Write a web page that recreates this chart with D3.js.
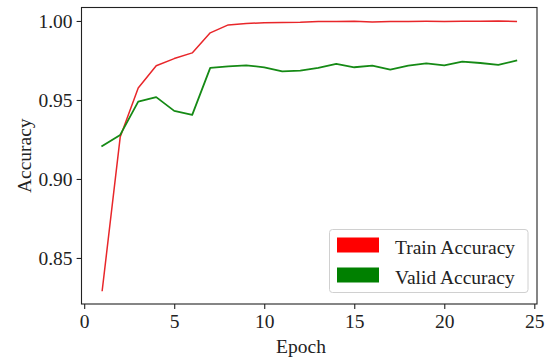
<!DOCTYPE html>
<meta charset="utf-8">
<style>
    html, body { margin: 0; padding: 0; background: #fff; }
    svg { display: block; font-family: "Liberation Serif", "Times New Roman", serif; }
</style>
<body>
<svg width="548" height="361"></svg>
<script src="https://cdn.jsdelivr.net/npm/d3@7"></script>
<script>
    // data
    const epochs = [1, 2, 3, 4, 5, 6, 7, 8, 9, 10, 11, 12, 13, 14, 15, 16, 17, 18, 19, 20, 21, 22, 23, 24];
    const trainAcc = [0.8294, 0.9265, 0.9576, 0.9717, 0.9762, 0.9798, 0.9925, 0.9975, 0.9984, 0.9989, 0.9991, 0.9992,
        0.9996, 0.9997, 0.9999, 0.9993, 0.9996, 0.9997, 0.9998, 0.9997, 0.9998, 0.9998, 1.0000, 0.9997];
    const validAcc = [0.9209, 0.9279, 0.9490, 0.9518, 0.9431, 0.9406, 0.9703, 0.9713, 0.9719, 0.9707, 0.9681, 0.9686,
        0.9703, 0.9728, 0.9707, 0.9717, 0.9692, 0.9717, 0.9732, 0.9719, 0.9743, 0.9734, 0.9722, 0.9749];
    const xTicks = [0, 5, 10, 15, 20, 25];
    const yTicks = [0.85, 0.90, 0.95, 1.00];
    const series = [
        { name: "Train Accuracy", values: trainAcc, color: "red", line: "#e8262a", width: 1.5 },
        { name: "Valid Accuracy", values: validAcc, color: "green", line: "#158a15", width: 1.8 }
    ];

    const m = { left: 81.5, right: 537, top: 7.5, bottom: 304 };
    const svg = d3.select("svg");

    // matplotlib style 5% margins
    const xMin = d3.min(epochs), xMax = d3.max(epochs);
    const xPad = (xMax - xMin) * 0.05;
    const all = trainAcc.concat(validAcc);
    const yMin = d3.min(all), yMax = d3.max(all);
    const yPad = (yMax - yMin) * 0.05;

    const x = d3.scaleLinear().domain([xMin - xPad, xMax + xPad]).range([m.left, m.right]);
    const y = d3.scaleLinear().domain([yMin - yPad, yMax + yPad]).range([m.bottom, m.top]);

    const line = d3.line().x((d, i) => x(epochs[i])).y(d => y(d));

    const plot = svg.append("g");
    series.forEach(s => {
        plot.append("path")
            .attr("d", line(s.values))
            .attr("fill", "none")
            .attr("stroke", s.line)
            .attr("stroke-width", s.width)
            .attr("stroke-linejoin", "round")
            .attr("stroke-linecap", "square");
    });

    // axes
    const xAxis = d3.axisBottom(x).tickValues(xTicks).tickFormat(d3.format("d")).tickSize(4.9).tickPadding(5);
    const yAxis = d3.axisLeft(y).tickValues(yTicks).tickFormat(d3.format(".2f")).tickSize(4.9).tickPadding(4);

    const gx = svg.append("g").attr("transform", `translate(0,${m.bottom})`).call(xAxis);
    const gy = svg.append("g").attr("transform", `translate(${m.left},0)`).call(yAxis);
    [gx, gy].forEach(g => {
        g.select(".domain").remove();
        g.selectAll(".tick line").attr("stroke", "#222").attr("stroke-width", 1.1);
        g.selectAll(".tick text").attr("fill", "#222")
            .style("font-family", "'Liberation Serif', serif").style("font-size", "19.5px");
    });
    gx.selectAll(".tick text").attr("dy", "0.71em");

    // frame
    svg.append("rect")
        .attr("x", m.left).attr("y", m.top)
        .attr("width", m.right - m.left).attr("height", m.bottom - m.top)
        .attr("fill", "none").attr("stroke", "#222").attr("stroke-width", 1.1);

    // axis labels
    svg.append("text")
        .attr("x", 301).attr("y", 353)
        .attr("text-anchor", "middle")
        .attr("fill", "#222")
        .style("font-size", "19.5px")
        .text("Epoch");
    svg.append("text")
        .attr("transform", `translate(31,${(m.top + m.bottom) / 2}) rotate(-90)`)
        .attr("text-anchor", "middle")
        .attr("fill", "#222")
        .style("font-size", "19.5px")
        .text("Accuracy");

    // legend
    const lg = svg.append("g");
    lg.append("rect")
        .attr("x", 329.5).attr("y", 229.5)
        .attr("width", 198.5).attr("height", 63)
        .attr("rx", 3)
        .attr("fill", "#fff").attr("fill-opacity", 0.8)
        .attr("stroke", "#d0d0d0").attr("stroke-width", 1);
    series.forEach((s, i) => {
        const yy = 237.5 + i * 30;
        lg.append("rect")
            .attr("x", 337).attr("y", yy)
            .attr("width", 42).attr("height", 15)
            .attr("fill", s.color);
        lg.append("text")
            .attr("x", 395).attr("y", yy + 16.5)
            .attr("fill", "#222")
            .style("font-size", "19.5px")
            .text(s.name);
    });
</script>
</body>
